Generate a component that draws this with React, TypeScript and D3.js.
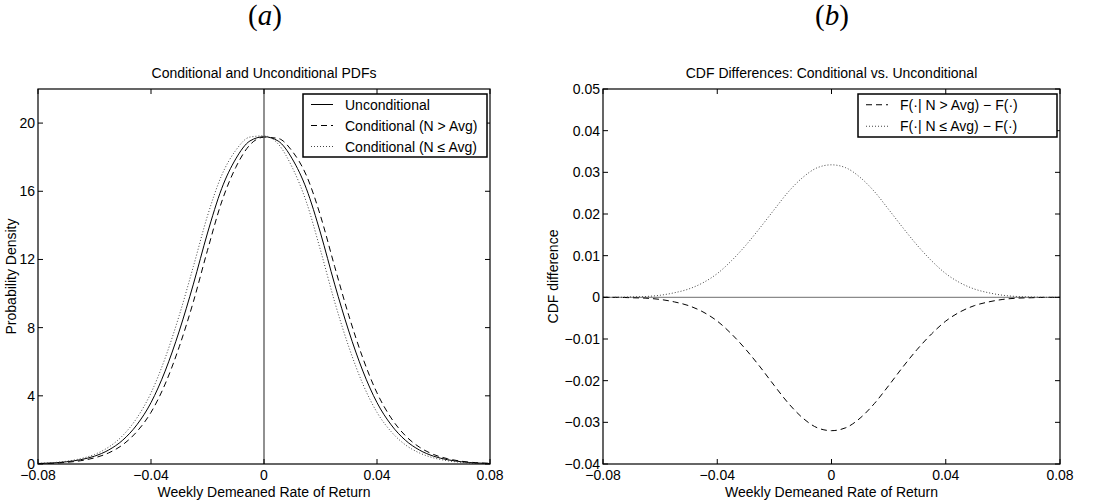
import React from 'react';
import * as d3 from 'd3';

// ---------- data ----------
const xGrid = [
  -0.08, -0.075, -0.07, -0.065, -0.06, -0.055, -0.05, -0.045, -0.04, -0.035, -0.03,
  -0.025, -0.02, -0.015, -0.01, -0.005, 0, 0.005, 0.01, 0.015, 0.02, 0.025, 0.03,
  0.035, 0.04, 0.045, 0.05, 0.055, 0.06, 0.065, 0.07, 0.075, 0.08,
];

const pdfUnconditional = [
  0.03, 0.06, 0.13, 0.25, 0.46, 0.82, 1.4, 2.3, 3.6, 5.45, 7.8, 10.55, 13.55, 16.15, 17.9, 18.95,
  19.2,
  18.95, 17.9, 16.15, 13.55, 10.55, 7.8, 5.45, 3.6, 2.3, 1.4, 0.82, 0.46, 0.25, 0.13, 0.06, 0.03,
];

const pdfHighN = [
  0.022, 0.042, 0.096, 0.19, 0.36, 0.65, 1.13, 1.9, 3.03, 4.69, 6.88, 9.52, 12.54, 15.37, 17.4, 18.72,
  19.17,
  19.1, 18.35, 16.93, 14.56, 11.59, 8.72, 6.21, 4.17, 2.7, 1.67, 0.99, 0.56, 0.31, 0.16, 0.078, 0.038,
];

const pdfLowN = [
  0.038, 0.078, 0.16, 0.31, 0.56, 0.99, 1.67, 2.7, 4.17, 6.21, 8.72, 11.59, 14.56, 16.93, 18.4, 19.18,
  19.25,
  18.78, 17.4, 15.37, 12.54, 9.52, 6.88, 4.69, 3.03, 1.9, 1.13, 0.65, 0.36, 0.19, 0.096, 0.042, 0.022,
];

const cdfDiffHighN = [
  0, 0, -0.0001, -0.0002, -0.0005, -0.0011, -0.002, -0.0035, -0.0057, -0.0088, -0.0125, -0.0167,
  -0.0212, -0.0255, -0.029, -0.0313,
  -0.032,
  -0.0313, -0.029, -0.0255, -0.0212, -0.0167, -0.0125, -0.0088, -0.0057, -0.0035, -0.002, -0.0011,
  -0.0005, -0.0002, -0.0001, 0, 0,
];

const cdfDiffLowN = [
  0, 0, 0.0001, 0.0002, 0.0005, 0.0011, 0.002, 0.0035, 0.0057, 0.0088, 0.0125, 0.0167, 0.0211,
  0.0254, 0.0288, 0.0311,
  0.0318,
  0.0311, 0.0288, 0.0254, 0.0211, 0.0167, 0.0125, 0.0088, 0.0057, 0.0035, 0.002, 0.0011, 0.0005,
  0.0002, 0.0001, 0, 0,
];

const xTicks = [-0.08, -0.04, 0, 0.04, 0.08];
const xTickLabels = ['\u22120.08', '\u22120.04', '0', '0.04', '0.08'];
const pdfYTicks = [0, 4, 8, 12, 16, 20];
const pdfYTickLabels = ['0', '4', '8', '12', '16', '20'];
const cdfYTicks = [-0.04, -0.03, -0.02, -0.01, 0, 0.01, 0.02, 0.03, 0.04, 0.05];
const cdfYTickLabels = [
  '\u22120.04', '\u22120.03', '\u22120.02', '\u22120.01', '0', '0.01', '0.02', '0.03', '0.04', '0.05',
];

const pdfLegend = ['Unconditional', 'Conditional (N > Avg)', 'Conditional (N \u2264 Avg)'];
const cdfLegend = [
  'F(\u00b7| N > Avg) \u2212 F(\u00b7)',
  'F(\u00b7| N \u2264 Avg) \u2212 F(\u00b7)',
];

// ---------- styling ----------
const FONT = '"Liberation Sans", Arial, Helvetica, sans-serif';
const FS = 14;
const DASH = '6 4';
const DOT = '1 2';

const W = 1094;
const H = 501;
const TOP = 89;
const BOTTOM = 464;
const TICK = 5;

type Series = { values: number[]; dash?: string; color: string; width: number };

function Axes(props: {
  x0: number; x1: number;
  yDomain: [number, number];
  yTicks: number[]; yLabels: string[];
  title: string; yTitle: string; yTitleX: number;
  series: Series[];
  refLine: 'vertical' | 'horizontal';
  legend: { labels: string[]; styles: Series[]; box: [number, number, number, number] };
}) {
  const { x0, x1, yDomain, yTicks, yLabels, title, yTitle, yTitleX, series, refLine, legend } = props;
  const x = d3.scaleLinear().domain([-0.08, 0.08]).range([x0, x1]);
  const y = d3.scaleLinear().domain(yDomain).range([BOTTOM, TOP]);
  const line = d3
    .line<number>()
    .x((_, i) => x(xGrid[i]))
    .y((d) => y(d))
    .curve(d3.curveMonotoneX);
  const cx = (x0 + x1) / 2;
  const cy = (TOP + BOTTOM) / 2;
  const [lx0, ly0, lx1, ly1] = legend.box;
  const rowH = (ly1 - ly0) / legend.labels.length;
  return (
    <g>
      <text x={cx} y={78} textAnchor="middle" fontFamily={FONT} fontSize={FS}>
        {title}
      </text>
      <rect x={x0} y={TOP} width={x1 - x0} height={BOTTOM - TOP} fill="#fff" />
      <defs>
        <clipPath id={`clip${x0}`}>
          <rect x={x0} y={TOP} width={x1 - x0} height={BOTTOM - TOP} />
        </clipPath>
      </defs>
      <g clipPath={`url(#clip${x0})`}>
        {refLine === 'horizontal' ? (
          <line x1={x0} x2={x1} y1={y(0)} y2={y(0)} stroke="#8a8a8a" strokeWidth={1.3} />
        ) : null}
        {series.map((s, i) => (
          <path
            key={i}
            d={line(s.values) || ''}
            fill="none"
            stroke={s.color}
            strokeWidth={s.width}
            strokeDasharray={s.dash}
          />
        ))}
        {refLine === 'vertical' ? (
          <line x1={x(0)} x2={x(0)} y1={TOP} y2={BOTTOM} stroke="#555" strokeWidth={1.3} />
        ) : null}
      </g>
      {/* ticks */}
      {xTicks.map((t, i) => (
        <g key={`xt${i}`}>
          <line x1={x(t)} x2={x(t)} y1={BOTTOM} y2={BOTTOM - TICK} stroke="#000" />
          <line x1={x(t)} x2={x(t)} y1={TOP} y2={TOP + TICK} stroke="#000" />
          <text x={x(t)} y={480} textAnchor="middle" fontFamily={FONT} fontSize={FS}>
            {xTickLabels[i]}
          </text>
        </g>
      ))}
      {yTicks.map((t, i) => (
        <g key={`yt${i}`}>
          <line x1={x0} x2={x0 + TICK} y1={y(t)} y2={y(t)} stroke="#000" />
          <line x1={x1} x2={x1 - TICK} y1={y(t)} y2={y(t)} stroke="#000" />
          <text
            x={x0 - 3}
            y={y(t)}
            dy="0.36em"
            textAnchor="end"
            fontFamily={FONT}
            fontSize={FS}
          >
            {yLabels[i]}
          </text>
        </g>
      ))}
      <rect
        x={x0}
        y={TOP}
        width={x1 - x0}
        height={BOTTOM - TOP}
        fill="none"
        stroke="#000"
        strokeWidth={1.2}
      />
      <text x={cx} y={497} textAnchor="middle" fontFamily={FONT} fontSize={FS}>
        Weekly Demeaned Rate of Return
      </text>
      <text
        transform={`translate(${yTitleX},${cy}) rotate(-90)`}
        textAnchor="middle"
        fontFamily={FONT}
        fontSize={FS}
      >
        {yTitle}
      </text>
      {/* legend */}
      <rect
        x={lx0}
        y={ly0}
        width={lx1 - lx0}
        height={ly1 - ly0}
        fill="#fff"
        stroke="#000"
        strokeWidth={1.5}
      />
      {legend.labels.map((lab, i) => {
        const ry = ly0 + rowH * (i + 0.5);
        const st = legend.styles[i];
        return (
          <g key={`lg${i}`}>
            <line
              x1={lx0 + 8}
              x2={lx0 + 30}
              y1={ry}
              y2={ry}
              stroke={st.color}
              strokeWidth={st.width}
              strokeDasharray={st.dash}
            />
            <text x={lx0 + 42} y={ry} dy="0.36em" fontFamily={FONT} fontSize={FS}>
              {lab}
            </text>
          </g>
        );
      })}
    </g>
  );
}

export default function App() {
  const solid: Series = { values: pdfUnconditional, color: '#000', width: 1 };
  const dashedP: Series = { values: pdfHighN, color: '#000', width: 1, dash: DASH };
  const dottedP: Series = { values: pdfLowN, color: '#444', width: 1, dash: DOT };
  const dashedC: Series = { values: cdfDiffHighN, color: '#000', width: 1, dash: DASH };
  const dottedC: Series = { values: cdfDiffLowN, color: '#444', width: 1, dash: DOT };
  return (
    <svg
      width={W}
      height={H}
      style={{ position: 'absolute', left: 0, top: 0, background: '#fff' }}
    >
      <rect x={0} y={0} width={W} height={H} fill="#fff" />
      <text x={265} y={25} textAnchor="middle" fontFamily='"Liberation Serif", "DejaVu Serif", serif' fontSize={29}>
        (<tspan fontStyle="italic">a</tspan>)
      </text>
      <text x={832} y={25} textAnchor="middle" fontFamily='"Liberation Serif", "DejaVu Serif", serif' fontSize={29}>
        (<tspan fontStyle="italic">b</tspan>)
      </text>
      <Axes
        x0={38}
        x1={490}
        yDomain={[0, 22]}
        yTicks={pdfYTicks}
        yLabels={pdfYTickLabels}
        title="Conditional and Unconditional PDFs"
        yTitle="Probability Density"
        yTitleX={16}
        series={[solid, dashedP, dottedP]}
        refLine="vertical"
        legend={{ labels: pdfLegend, styles: [solid, dashedP, dottedP], box: [303, 94, 487, 157] }}
      />
      <Axes
        x0={603}
        x1={1060}
        yDomain={[-0.04, 0.05]}
        yTicks={cdfYTicks}
        yLabels={cdfYTickLabels}
        title="CDF Differences: Conditional vs. Unconditional"
        yTitle="CDF difference"
        yTitleX={558}
        series={[dashedC, dottedC]}
        refLine="horizontal"
        legend={{ labels: cdfLegend, styles: [dashedC, dottedC], box: [858, 94, 1057, 137] }}
      />
    </svg>
  );
}
